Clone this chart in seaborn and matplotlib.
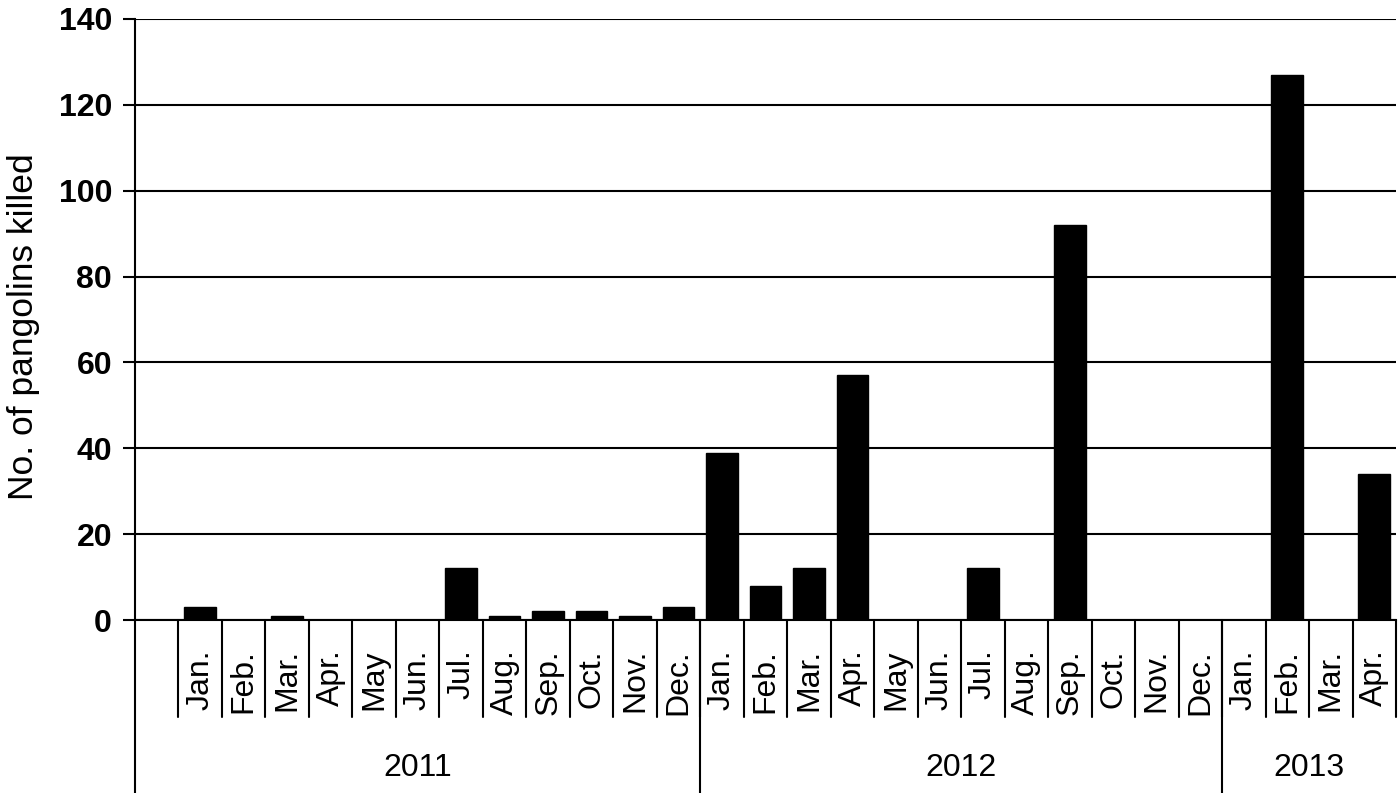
"""
Monthly number of pangolins killed, Jan 2011 - Apr 2013
"""

import numpy as np
import pandas as pd
import matplotlib
matplotlib.use('Agg')
import matplotlib.pyplot as plt
import seaborn as sns

# data
months_2011 = ['Jan.', 'Feb.', 'Mar.', 'Apr.', 'May', 'Jun.', 'Jul.', 'Aug.', 'Sep.', 'Oct.', 'Nov.', 'Dec.']
months_2012 = ['Jan.', 'Feb.', 'Mar.', 'Apr.', 'May', 'Jun.', 'Jul.', 'Aug.', 'Sep.', 'Oct.', 'Nov.', 'Dec.']
months_2013 = ['Jan.', 'Feb.', 'Mar.', 'Apr.']
years = ['2011', '2012', '2013']

killed_2011 = [3, 0, 1, 0, 0, 0, 12, 1, 2, 2, 1, 3]
killed_2012 = [39, 8, 12, 57, 0, 0, 12, 0, 92, 0, 0, 0]
killed_2013 = [0, 127, 0, 34]

y_ticks = [0, 20, 40, 60, 80, 100, 120, 140]

sns.set_style('white')
plt.rcParams['font.family'] = ['Liberation Sans', 'DejaVu Sans']
for key in ['text.color', 'axes.labelcolor', 'xtick.color', 'ytick.color']:
    plt.rcParams[key] = 'black'

month_labels = months_2011 + months_2012 + months_2013
values = killed_2011 + killed_2012 + killed_2013
keys = [f'{y}-{m}' for y, ms in zip(years, [months_2011, months_2012, months_2013]) for m in ms]
df = pd.DataFrame({'key': keys, 'killed': values})

fig = plt.figure(figsize=(14, 7.93), dpi=100)
ax = fig.add_axes([135 / 1400, 1 - 620 / 793, 1261 / 1400, 601 / 793])

sns.barplot(data=df, x='key', y='killed', order=keys, color='black',
            edgecolor='black', linewidth=1, width=0.73, saturation=1, ax=ax)

n = len(keys)
ax.set_xlim(-1.5, n - 0.5)
ax.set_ylim(0, 140)

# horizontal gridlines
ax.set_yticks(y_ticks)
ax.yaxis.grid(True, color='black', linewidth=1.5)
ax.set_axisbelow(True)
ax.set_yticklabels([str(t) for t in y_ticks], fontsize=23, fontweight='bold')
ax.tick_params(axis='y', direction='out', length=9, width=1.5, pad=7.5, left=True, color='black')

ax.set_xticks([])
ax.set_xlabel('')
ax.set_ylabel('No. of pangolins killed', fontsize=25.5)
ax.yaxis.set_label_coords(-0.075, 0.4875)

for side in ['top', 'right']:
    ax.spines[side].set_visible(False)
for side in ['left', 'bottom']:
    ax.spines[side].set_color('black')
    ax.spines[side].set_linewidth(1.5)

trans = ax.get_xaxis_transform()

# month labels, top-aligned just under the axis
for i, lab in enumerate(month_labels):
    ax.text(i, -29 / 601, lab, transform=trans, rotation=90,
            ha='center', va='top', fontsize=23)

# month separators below the axis
month_depth = -97 / 601
year_depth = -175 / 601
for x in np.arange(-0.5, n, 1.0):
    ax.plot([x, x], [0, month_depth], color='black', lw=1.5, transform=trans, clip_on=False)

# year separators and year labels
sizes = [len(months_2011), len(months_2012), len(months_2013)]
edges = [-1.5, -0.5 + sizes[0], -0.5 + sizes[0] + sizes[1], n - 0.5]
for x in edges[:-1]:
    ax.plot([x, x], [0, year_depth], color='black', lw=1.5, transform=trans, clip_on=False)
for i, year in enumerate(years):
    ax.text((edges[i] + edges[i + 1]) / 2, -148 / 601, year, transform=trans,
            ha='center', va='center', fontsize=23)

plt.savefig('out.png', dpi=100)
